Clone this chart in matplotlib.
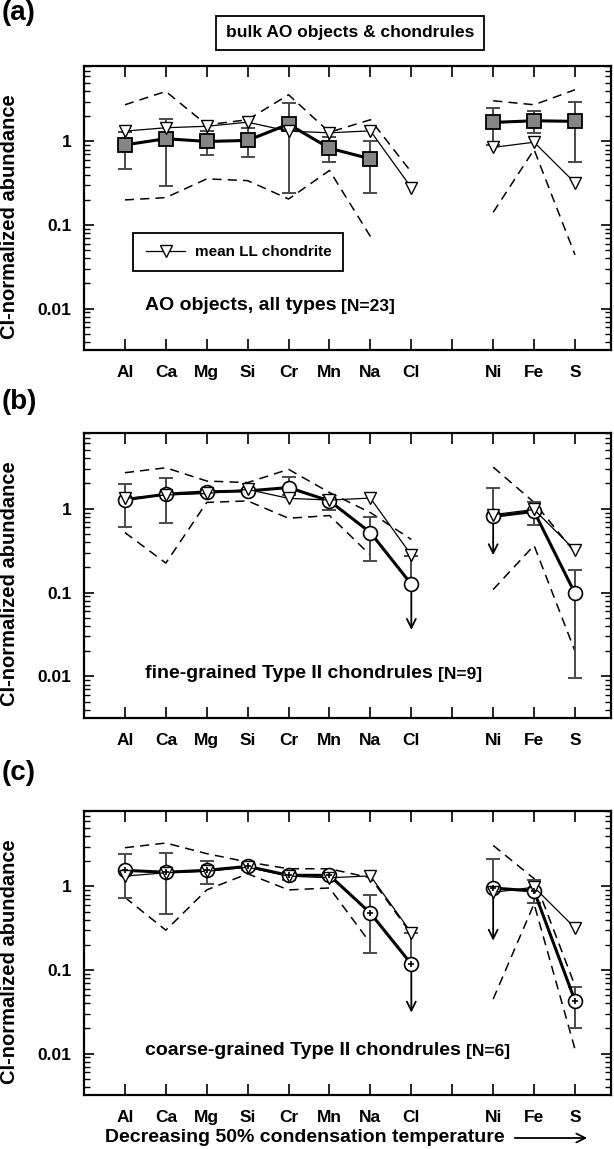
import numpy as np
import matplotlib
matplotlib.use('Agg')
import matplotlib.pyplot as plt
from matplotlib import ticker
from matplotlib.lines import Line2D

plt.rcParams['font.family'] = ['Liberation Sans', 'DejaVu Sans']
plt.rcParams['font.weight'] = 'bold'
plt.rcParams['axes.labelweight'] = 'bold'

# element order = decreasing 50% condensation temperature, two groups
LITHOPHILE = ['Al', 'Ca', 'Mg', 'Si', 'Cr', 'Mn', 'Na', 'Cl']
SIDEROPHILE = ['Ni', 'Fe', 'S']

nan = np.nan

# mean LL chondrite (same in every panel)
ll_mean = [1.33, 1.46, 1.52, 1.70, 1.33, 1.27, 1.34, 0.28, 0.85, 0.98, 0.32]

# (a) AO objects, all types
ao_mean = [0.91, 1.08, 1.00, 1.03, 1.61, 0.83, 0.62, nan, 1.69, 1.77, 1.74]
ao_lo = [0.47, 0.295, 0.68, 0.66, 0.24, 0.57, 0.24, nan, 0.90, 1.28, 0.57]
ao_hi = [1.30, 1.87, 1.35, 1.44, 2.87, 1.12, 1.00, nan, 2.50, 2.29, 2.96]
ao_max = [2.75, 3.97, 1.58, 1.82, 3.62, 1.29, 1.82, 0.43, 3.07, 2.75, 4.16]
ao_min = [0.20, 0.213, 0.357, 0.34, 0.205, 0.45, 0.073, nan, 0.142, 0.80, 0.044]
ao_limit = [nan] * 11

# (b) fine-grained Type II chondrules
fg_mean = [1.28, 1.49, 1.59, 1.63, 1.79, 1.24, 0.52, 0.126, 0.81, 0.93, 0.098]
fg_lo = [0.60, 0.67, 1.45, 1.55, 1.45, 0.97, 0.238, nan, nan, 0.64, 0.0097]
fg_hi = [1.96, 2.31, 1.70, 1.70, 2.39, 1.46, 0.80, 0.27, 1.79, 1.19, 0.185]
fg_max = [2.69, 3.08, 2.14, 2.05, 2.95, 1.56, 0.90, 0.43, 3.14, 1.19, 0.30]
fg_min = [0.52, 0.225, 1.19, 1.24, 0.77, 0.83, 0.28, nan, 0.109, 0.365, 0.020]
fg_limit = [nan, nan, nan, nan, nan, nan, nan, 0.036, 0.28, nan, nan]

# (c) coarse-grained Type II chondrules
cg_mean = [1.56, 1.48, 1.56, 1.74, 1.36, 1.36, 0.48, 0.118, 0.96, 0.88, 0.043]
cg_lo = [0.73, 0.47, 1.08, 1.56, 1.18, 1.25, 0.158, nan, nan, 0.63, 0.020]
cg_hi = [2.42, 2.51, 2.00, 1.90, 1.50, 1.45, 0.80, 0.28, 2.15, 1.18, 0.063]
cg_max = [2.91, 3.31, 2.47, 1.96, 1.63, 1.63, 1.27, 0.27, 3.10, 1.24, 0.065]
cg_min = [0.74, 0.30, 0.91, 1.42, 0.91, 0.96, 0.21, nan, 0.045, 0.62, 0.0113]
cg_limit = [nan, nan, nan, nan, nan, nan, nan, 0.031, 0.225, nan, nan]

W, H = 614, 1149
AX_LEFT, AX_RIGHT = 84, 611
PANELS = [
    dict(tag='(a)', top=66, bottom=350, tag_y=0,
         mean=ao_mean, lo=ao_lo, hi=ao_hi, vmax=ao_max, vmin=ao_min,
         limit=ao_limit, style='square',
         name='AO objects, all types ', n='[N=23]'),
    dict(tag='(b)', top=433, bottom=718, tag_y=389,
         mean=fg_mean, lo=fg_lo, hi=fg_hi, vmax=fg_max, vmin=fg_min,
         limit=fg_limit, style='circle',
         name='fine-grained Type II chondrules ', n='[N=9]'),
    dict(tag='(c)', top=811, bottom=1095, tag_y=760,
         mean=cg_mean, lo=cg_lo, hi=cg_hi, vmax=cg_max, vmin=cg_min,
         limit=cg_limit, style='dotcircle',
         name='coarse-grained Type II chondrules ', n='[N=6]'),
]

n_lith = len(LITHOPHILE)
xpos = np.r_[np.arange(1, n_lith + 1), np.arange(n_lith + 2, n_lith + 2 + len(SIDEROPHILE))]
groups = [slice(0, n_lith), slice(n_lith, None)]
ERR_COLOR = '#4a4a4a'


def draw_panel(ax, p):
    mean = np.array(p['mean'], float)
    lo = np.array(p['lo'], float)
    hi = np.array(p['hi'], float)
    vmax = np.array(p['vmax'], float)
    vmin = np.array(p['vmin'], float)
    ll = np.array(ll_mean, float)

    for g in groups:
        ax.plot(xpos[g], vmax[g], ls=(0, (6, 4)), color='black', lw=1.1, zorder=1)
        ax.plot(xpos[g], vmin[g], ls=(0, (6, 4)), color='black', lw=1.1, zorder=1)

    # error bars (missing side drawn with zero length)
    ok = ~np.isnan(mean) & ~(np.isnan(lo) & np.isnan(hi))
    yerr = np.vstack([np.nan_to_num(mean - lo), np.nan_to_num(hi - mean)])
    ax.errorbar(xpos[ok], mean[ok], yerr=yerr[:, ok], fmt='none', ecolor=ERR_COLOR,
                elinewidth=1.4, capsize=5, capthick=1.4, zorder=2)

    # upper limits
    for x, m, lim in zip(xpos, mean, p['limit']):
        if not np.isnan(lim):
            ax.annotate('', xy=(x, lim), xytext=(x, m),
                        arrowprops=dict(arrowstyle='->', color='black', lw=1.3,
                                        shrinkA=0, shrinkB=0, mutation_scale=16),
                        zorder=2)

    for g in groups:
        if p['style'] == 'square':
            ax.plot(xpos[g], mean[g], '-s', color='black', lw=2.2, ms=10,
                    mfc='#858585', mec='black', mew=1.3, zorder=3)
        else:
            ax.plot(xpos[g], mean[g], '-o', color='black', lw=2.2, ms=10,
                    mfc='white', mec='black', mew=1.2, zorder=3)
        ax.plot(xpos[g], ll[g], '-v', color='black', lw=0.9, ms=8,
                mfc='white', mec='black', mew=1.0, zorder=4)
    if p['style'] == 'dotcircle':
        ax.plot(xpos, mean, '+', color='black', ms=4, mew=1.2, zorder=5)

    ax.set_yscale('log')
    ax.set_ylim(0.0032, 8)
    ax.set_xlim(0, 12.88)
    ax.yaxis.set_major_locator(ticker.LogLocator(base=10))
    ax.yaxis.set_minor_locator(ticker.LogLocator(base=10, subs=np.arange(2, 10)))
    ax.yaxis.set_major_formatter(ticker.FuncFormatter(lambda v, pos: f'{v:g}'))
    ax.yaxis.set_minor_formatter(ticker.NullFormatter())
    ax.set_xticks(np.arange(1, 13))
    ax.set_xticklabels(LITHOPHILE + [''] + SIDEROPHILE)
    ax.tick_params(axis='x', which='major', direction='in', length=8, width=1.2,
                   top=True, bottom=True, pad=11, labelsize=12.5)
    ax.tick_params(axis='y', which='major', direction='in', length=7, width=1.2,
                   left=True, right=True, pad=9, labelsize=12.5)
    ax.tick_params(axis='y', which='minor', direction='in', length=4, width=1.0,
                   left=True, right=True)
    for s in ax.spines.values():
        s.set_linewidth(1.6)

    ax.set_ylabel('CI-normalized abundance', fontsize=14.5)
    ax.yaxis.set_label_coords(-0.124, 0.47)

    t = ax.text(0.115, 0.14, p['name'], transform=ax.transAxes, fontsize=14,
                ha='left', va='baseline')
    ax.annotate(p['n'], xy=(1, 0), xycoords=t, va='bottom', ha='left', fontsize=12.5)


fig = plt.figure(figsize=(W / 100, H / 100), dpi=100)
for p in PANELS:
    rect = [AX_LEFT / W, 1 - p['bottom'] / H, (AX_RIGHT - AX_LEFT) / W,
            (p['bottom'] - p['top']) / H]
    ax = fig.add_axes(rect)
    draw_panel(ax, p)
    fig.text(0.002, 1 - p['tag_y'] / H, p['tag'], fontsize=20, va='top', ha='left')
    if p['tag'] == '(a)':
        handle = Line2D([], [], color='black', lw=0.9, marker='v', ms=8,
                        mfc='white', mec='black')
        leg = ax.legend([handle], ['mean LL chondrite'], loc='center',
                        bbox_to_anchor=(0.293, 0.345), fancybox=False,
                        edgecolor='black', framealpha=1, fontsize=11,
                        handlelength=2.6, borderpad=0.8, handletextpad=0.6)
        leg.get_frame().set_linewidth(1.3)

fig.text(350 / W, 1 - 33 / H, 'bulk AO objects & chondrules', fontsize=12.5,
         ha='center', va='center',
         bbox=dict(boxstyle='square,pad=0.55', fc='white', ec='black', lw=1.3))

ylab = 1 - 1138 / H
fig.text(105 / W, ylab, 'Decreasing 50% condensation temperature', fontsize=14,
         ha='left', va='center')
fig.add_artist(matplotlib.patches.FancyArrowPatch(
    (512 / W, ylab), (590 / W, ylab), transform=fig.transFigure,
    arrowstyle='->', mutation_scale=16, lw=1.3, color='black'))

fig.savefig('out.png', dpi=100)
